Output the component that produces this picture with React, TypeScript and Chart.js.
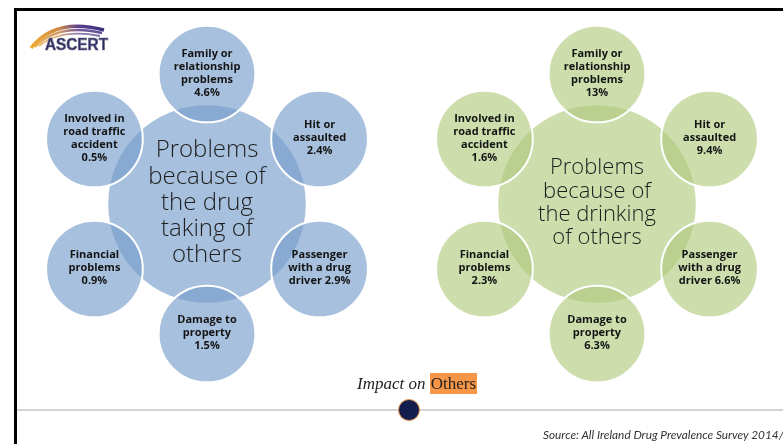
import React, { useEffect, useRef } from "react";
import { Chart, registerables } from "chart.js";

Chart.register(...registerables);

// ---- data ----
const categories = [
  "Family or relationship problems",
  "Hit or assaulted",
  "Passenger with a drug driver",
  "Damage to property",
  "Financial problems",
  "Involved in road traffic accident",
];
const categoryLines = [
  ["Family or", "relationship", "problems"],
  ["Hit or", "assaulted"],
  ["Passenger", "with a drug", "driver"],
  ["Damage to", "property"],
  ["Financial", "problems"],
  ["Involved in", "road traffic", "accident"],
];
const valueOnLastLine = [false, false, true, false, false, false];
const drugValues = [4.6, 2.4, 2.9, 1.5, 0.9, 0.5];
const drinkValues = [13, 9.4, 6.6, 6.3, 2.3, 1.6];
const groupValues = [drugValues, drinkValues];
const hubTitles = [
  ["Problems", "because of", "the drug", "taking of", "others"],
  ["Problems", "because of", "the drinking", "of others"],
];

// ---- layout / style ----
const W = 783;
const H = 444;
const groupX = [0, 3];
const hubR = 0.76;
const satR = 0.372;
const hubFill = ["rgba(117,157,203,0.64)", "rgba(177,202,125,0.64)"];
const satFill = hubFill;
const hubFont = [24, 22];
const hubLine = [26.2, 23.4];

function unitPx(chart: any, size: number) {
  const s = chart.scales.x;
  return Math.abs(s.getPixelForValue(size) - s.getPixelForValue(0));
}

const satData: any[] = [];
const satColors: string[] = [];
groupX.forEach((gx, g) => {
  categories.forEach((_, i) => {
    const a = ((90 - 60 * i) * Math.PI) / 180;
    satData.push({ x: gx + Math.cos(a), y: Math.sin(a) });
    satColors.push(satFill[g]);
  });
});
const hubData = groupX.map((gx) => ({ x: gx, y: 0 }));

const labelPlugin = {
  id: "circleLabels",
  afterDatasetsDraw(chart: any) {
    const ctx = chart.ctx;
    ctx.save();
    ctx.textAlign = "center";
    ctx.textBaseline = "middle";
    const sats = chart.getDatasetMeta(0).data;
    sats.forEach((el: any, k: number) => {
      const g = Math.floor(k / categories.length);
      const i = k % categories.length;
      const val = groupValues[g][i] + "%";
      const lines = categoryLines[i].slice();
      if (valueOnLastLine[i]) lines[lines.length - 1] += " " + val;
      else lines.push(val);
      ctx.font = "bold 11px 'Open Sans'";
      ctx.fillStyle = "#141414";
      const lh = 13;
      const y0 = el.y - ((lines.length - 1) * lh) / 2 - 1;
      lines.forEach((t: string, j: number) => ctx.fillText(t, el.x, y0 + j * lh));
    });
    const hubs = chart.getDatasetMeta(1).data;
    hubs.forEach((el: any, g: number) => {
      const lines = hubTitles[g];
      ctx.font = "300 " + hubFont[g] + "px 'Open Sans'";
      ctx.fillStyle = "#1e1e1e";
      const lh = hubLine[g];
      const y0 = el.y - ((lines.length - 1) * lh) / 2 - 1;
      lines.forEach((t: string, j: number) => ctx.fillText(t, el.x, y0 + j * lh));
    });
    ctx.restore();
  },
};

export default function App() {
  const ref = useRef<HTMLCanvasElement | null>(null);
  useEffect(() => {
    document.body.style.margin = "0";
    const ppu = 130;
    const xMin = -207 / ppu;
    const yMax = 204 / ppu;
    const chart = new Chart(ref.current as HTMLCanvasElement, {
      type: "scatter",
      data: {
        datasets: [
          {
            label: "Impacts",
            data: satData,
            backgroundColor: satColors,
            borderColor: "#ffffff",
            borderWidth: 2,
            pointRadius: (c: any) => unitPx(c.chart, satR),
            pointHoverRadius: (c: any) => unitPx(c.chart, satR),
            clip: false,
          } as any,
          {
            label: "Hubs",
            data: hubData,
            backgroundColor: hubFill,
            borderWidth: 0,
            pointRadius: (c: any) => unitPx(c.chart, hubR),
            pointHoverRadius: (c: any) => unitPx(c.chart, hubR),
            clip: false,
          } as any,
        ],
      },
      options: {
        animation: false,
        responsive: false,
        devicePixelRatio: 1,
        events: [],
        layout: { padding: 0 },
        scales: {
          x: { type: "linear", display: false, min: xMin, max: xMin + W / ppu },
          y: { type: "linear", display: false, min: yMax - H / ppu, max: yMax },
        },
        plugins: { legend: { display: false }, tooltip: { enabled: false } },
      },
      plugins: [labelPlugin],
    });
    return () => chart.destroy();
  }, []);

  return (
    <div style={{ position: "relative", width: W, height: H, overflow: "hidden", background: "#fff" }}>
      <canvas ref={ref} width={W} height={H} style={{ position: "absolute", left: 0, top: 0 }} />
      <div style={{ position: "absolute", left: 14, top: 8, width: W - 14, height: 3, background: "#000" }} />
      <div style={{ position: "absolute", left: 14, top: 8, width: 3, height: H - 8, background: "#000" }} />
      <div style={{ position: "absolute", left: 17, top: 409, width: W - 17, height: 2, background: "#d4d4d4" }} />
      <div
        style={{
          position: "absolute",
          left: 398,
          top: 399,
          width: 22,
          height: 22,
          borderRadius: "50%",
          background: "#141E4E",
          border: "1px solid #E8954A",
          boxSizing: "border-box",
        }}
      />
      <div
        style={{
          position: "absolute",
          left: 357,
          top: 373,
          height: 21,
          lineHeight: "21px",
          fontFamily: "'Liberation Serif', serif",
          fontSize: 17,
          color: "#222",
          whiteSpace: "nowrap",
        }}
      >
        <span style={{ fontStyle: "italic" }}>Impact on </span>
        <span style={{ background: "#F79646", padding: "0 1px", display: "inline-block" }}>Others</span>
      </div>
      <div
        style={{
          position: "absolute",
          left: 543,
          top: 428,
          lineHeight: "14px",
          fontFamily: "Lato, sans-serif",
          fontStyle: "italic",
          fontSize: 11.8,
          color: "#333",
          whiteSpace: "nowrap",
        }}
      >
        Source: All Ireland Drug Prevalence Survey 2014/15
      </div>
      <svg width={120} height={60} style={{ position: "absolute", left: 0, top: 0 }}>
        <defs>
          <linearGradient id="arcg" x1="30" y1="0" x2="105" y2="0" gradientUnits="userSpaceOnUse">
            <stop offset="0" stopColor="#F2AE2E" />
            <stop offset="0.4" stopColor="#C8874A" />
            <stop offset="0.65" stopColor="#5B3F8E" />
            <stop offset="1" stopColor="#3B2F7C" />
          </linearGradient>
        </defs>
        <path d="M31 48 Q55 17 104 30" stroke="url(#arcg)" strokeWidth={3.5} fill="none" />
        <path d="M35 47 Q58 23 102 33" stroke="url(#arcg)" strokeWidth={2.5} fill="none" opacity={0.85} />
        <path d="M39 46 Q61 28 100 36" stroke="url(#arcg)" strokeWidth={1.8} fill="none" opacity={0.7} />
        <text
          x={45}
          y={50}
          fontFamily="'Liberation Sans', Arial, sans-serif"
          fontWeight="bold"
          fontSize={16}
          fill="#2D2C5F"
          stroke="#6f6f90"
          strokeWidth={0.7}
          textLength={63}
          lengthAdjust="spacingAndGlyphs"
        >
          ASCERT
        </text>
      </svg>
    </div>
  );
}
